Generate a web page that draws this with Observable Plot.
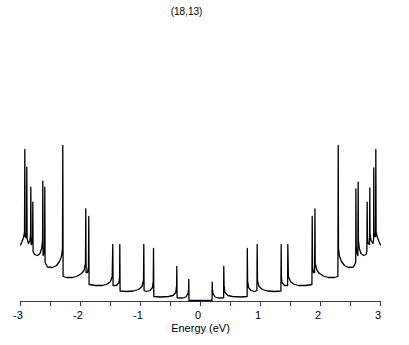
<!DOCTYPE html>
<html>
<head>
<meta charset="utf-8">
<script src="https://cdn.jsdelivr.net/npm/d3@7"></script>
<script src="https://cdn.jsdelivr.net/npm/@observablehq/plot@0.6"></script>
<style>
  html, body { margin: 0; padding: 0; background: #fff; }
  #chart svg { display: block; }
</style>
</head>
<body>
<div id="chart"></div>
<script>
// Chart title (chirality indices of the nanotube)
const title = "(18,13)";
const xLabel = "Energy (eV)";

// Energy axis ticks (eV)
const tickValues = [-3, -2.5, -2, -1.5, -1, -0.5, 0, 0.5, 1, 1.5, 2, 2.5, 3];
const tickLabels = [-3, -2, -1, 0, 1, 2, 3];

// Density of states trace, energy (eV) and DOS (arbitrary units)
const energy = [
  -3.000, -2.975, -2.950, -2.933, -2.928, -2.923, -2.908, -2.898, -2.895, -2.890,
  -2.867, -2.842, -2.832, -2.828, -2.823, -2.807, -2.798, -2.795, -2.790, -2.767,
  -2.717, -2.675, -2.647, -2.632, -2.628, -2.623, -2.607, -2.598, -2.595, -2.590,
  -2.550, -2.467, -2.400, -2.350, -2.317, -2.300, -2.295, -2.290, -2.233, -2.133,
  -2.050, -1.983, -1.942, -1.917, -1.912, -1.907, -1.883, -1.867, -1.862, -1.857,
  -1.750, -1.633, -1.550, -1.500, -1.472, -1.462, -1.457, -1.400, -1.358, -1.348,
  -1.345, -1.340, -1.233, -1.117, -1.033, -0.975, -0.950, -0.945, -0.940, -0.900,
  -0.842, -0.800, -0.787, -0.783, -0.778, -0.667, -0.533, -0.458, -0.412, -0.398,
  -0.395, -0.390, -0.300, -0.242, -0.208, -0.198, -0.195, -0.192, 0.000,
  0.192, 0.195, 0.198, 0.208, 0.242, 0.300, 0.385, 0.388, 0.393, 0.408,
  0.458, 0.533, 0.667, 0.777, 0.780, 0.785, 0.800, 0.842, 0.900, 0.940,
  0.945, 0.950, 0.975, 1.033, 1.117, 1.233, 1.340, 1.345, 1.348, 1.358,
  1.400, 1.452, 1.455, 1.465, 1.500, 1.550, 1.633, 1.750, 1.857, 1.862,
  1.867, 1.883, 1.902, 1.907, 1.912, 1.942, 1.983, 2.050, 2.133, 2.233,
  2.290, 2.295, 2.300, 2.317, 2.350, 2.400, 2.467, 2.550, 2.587, 2.590,
  2.595, 2.607, 2.623, 2.628, 2.632, 2.647, 2.675, 2.717, 2.758, 2.773,
  2.778, 2.782, 2.792, 2.817, 2.822, 2.825, 2.842, 2.875, 2.885, 2.888,
  2.892, 2.905, 2.918, 2.922, 2.927, 2.950, 2.975, 3.000
];
const dos = [
  0.555, 0.590, 0.630, 0.680, 1.510, 0.640, 0.630, 0.680, 1.333, 0.620,
  0.570, 0.600, 0.670, 1.133, 0.560, 0.570, 0.640, 0.983, 0.490, 0.460,
  0.450, 0.470, 0.520, 0.600, 1.193, 0.450, 0.480, 0.540, 1.133, 0.380,
  0.335, 0.330, 0.350, 0.390, 0.440, 0.520, 1.550, 0.240, 0.230, 0.230,
  0.245, 0.270, 0.300, 0.370, 0.917, 0.280, 0.280, 0.340, 0.840, 0.160,
  0.150, 0.150, 0.165, 0.190, 0.240, 0.560, 0.150, 0.150, 0.180, 0.240,
  0.560, 0.095, 0.090, 0.095, 0.110, 0.140, 0.200, 0.560, 0.100, 0.090,
  0.100, 0.130, 0.200, 0.520, 0.040, 0.035, 0.040, 0.050, 0.080, 0.150,
  0.340, 0.027, 0.025, 0.035, 0.070, 0.120, 0.210, 0.000, 0.000,
  0.000, 0.183, 0.120, 0.070, 0.035, 0.025, 0.027, 0.340, 0.150, 0.080,
  0.050, 0.040, 0.035, 0.040, 0.520, 0.200, 0.130, 0.100, 0.090, 0.100,
  0.560, 0.200, 0.140, 0.110, 0.095, 0.090, 0.095, 0.560, 0.240, 0.180,
  0.150, 0.150, 0.560, 0.240, 0.190, 0.165, 0.150, 0.150, 0.160, 0.840,
  0.340, 0.280, 0.280, 0.917, 0.370, 0.300, 0.270, 0.245, 0.230, 0.230,
  0.240, 1.550, 0.520, 0.440, 0.390, 0.350, 0.330, 0.335, 0.380, 1.117,
  0.540, 0.480, 0.450, 1.183, 0.600, 0.520, 0.470, 0.450, 0.460, 0.490,
  0.983, 0.640, 0.570, 0.560, 1.127, 0.670, 0.600, 0.570, 0.620, 1.327,
  0.680, 0.640, 0.640, 1.510, 0.680, 0.630, 0.590, 0.555
];

const data = energy.map((e, i) => ({E: e, D: dos[i]}));
const axisBlue = "#2a2ad0";
const font = "'Liberation Sans', Arial, sans-serif";

const chart = Plot.plot({
  width: 409,
  height: 345,
  marginLeft: 20,
  marginRight: 29,
  marginTop: 20,
  marginBottom: 45,
  x: {domain: [-3, 3]},
  y: {domain: [0, 2.8], axis: null},
  style: {fontFamily: font, fontSize: "11px", background: "white", color: "black"},
  marks: [
    Plot.ruleY([0], {stroke: axisBlue, dy: 1, strokeWidth: 1}),
    Plot.axisX({ticks: tickValues, tickSize: 5, dy: 1, stroke: axisBlue, tickFormat: () => "", label: null}),
    Plot.axisX({ticks: tickLabels, tickSize: 0, tickPadding: 11, dx: -2.5, tickFormat: d => String(d), fill: "black", label: null, fontSize: 11}),
    Plot.line(data, {x: "E", y: "D", stroke: "black", strokeWidth: 1.3}),
    Plot.text([xLabel], {frameAnchor: "bottom", dy: 31, fontSize: 11, fill: "black"}),
    Plot.text([title], {frameAnchor: "top", dy: -13, dx: -14, fontSize: 10, fill: "black"})
  ]
});
document.getElementById("chart").appendChild(chart);
</script>
</body>
</html>
